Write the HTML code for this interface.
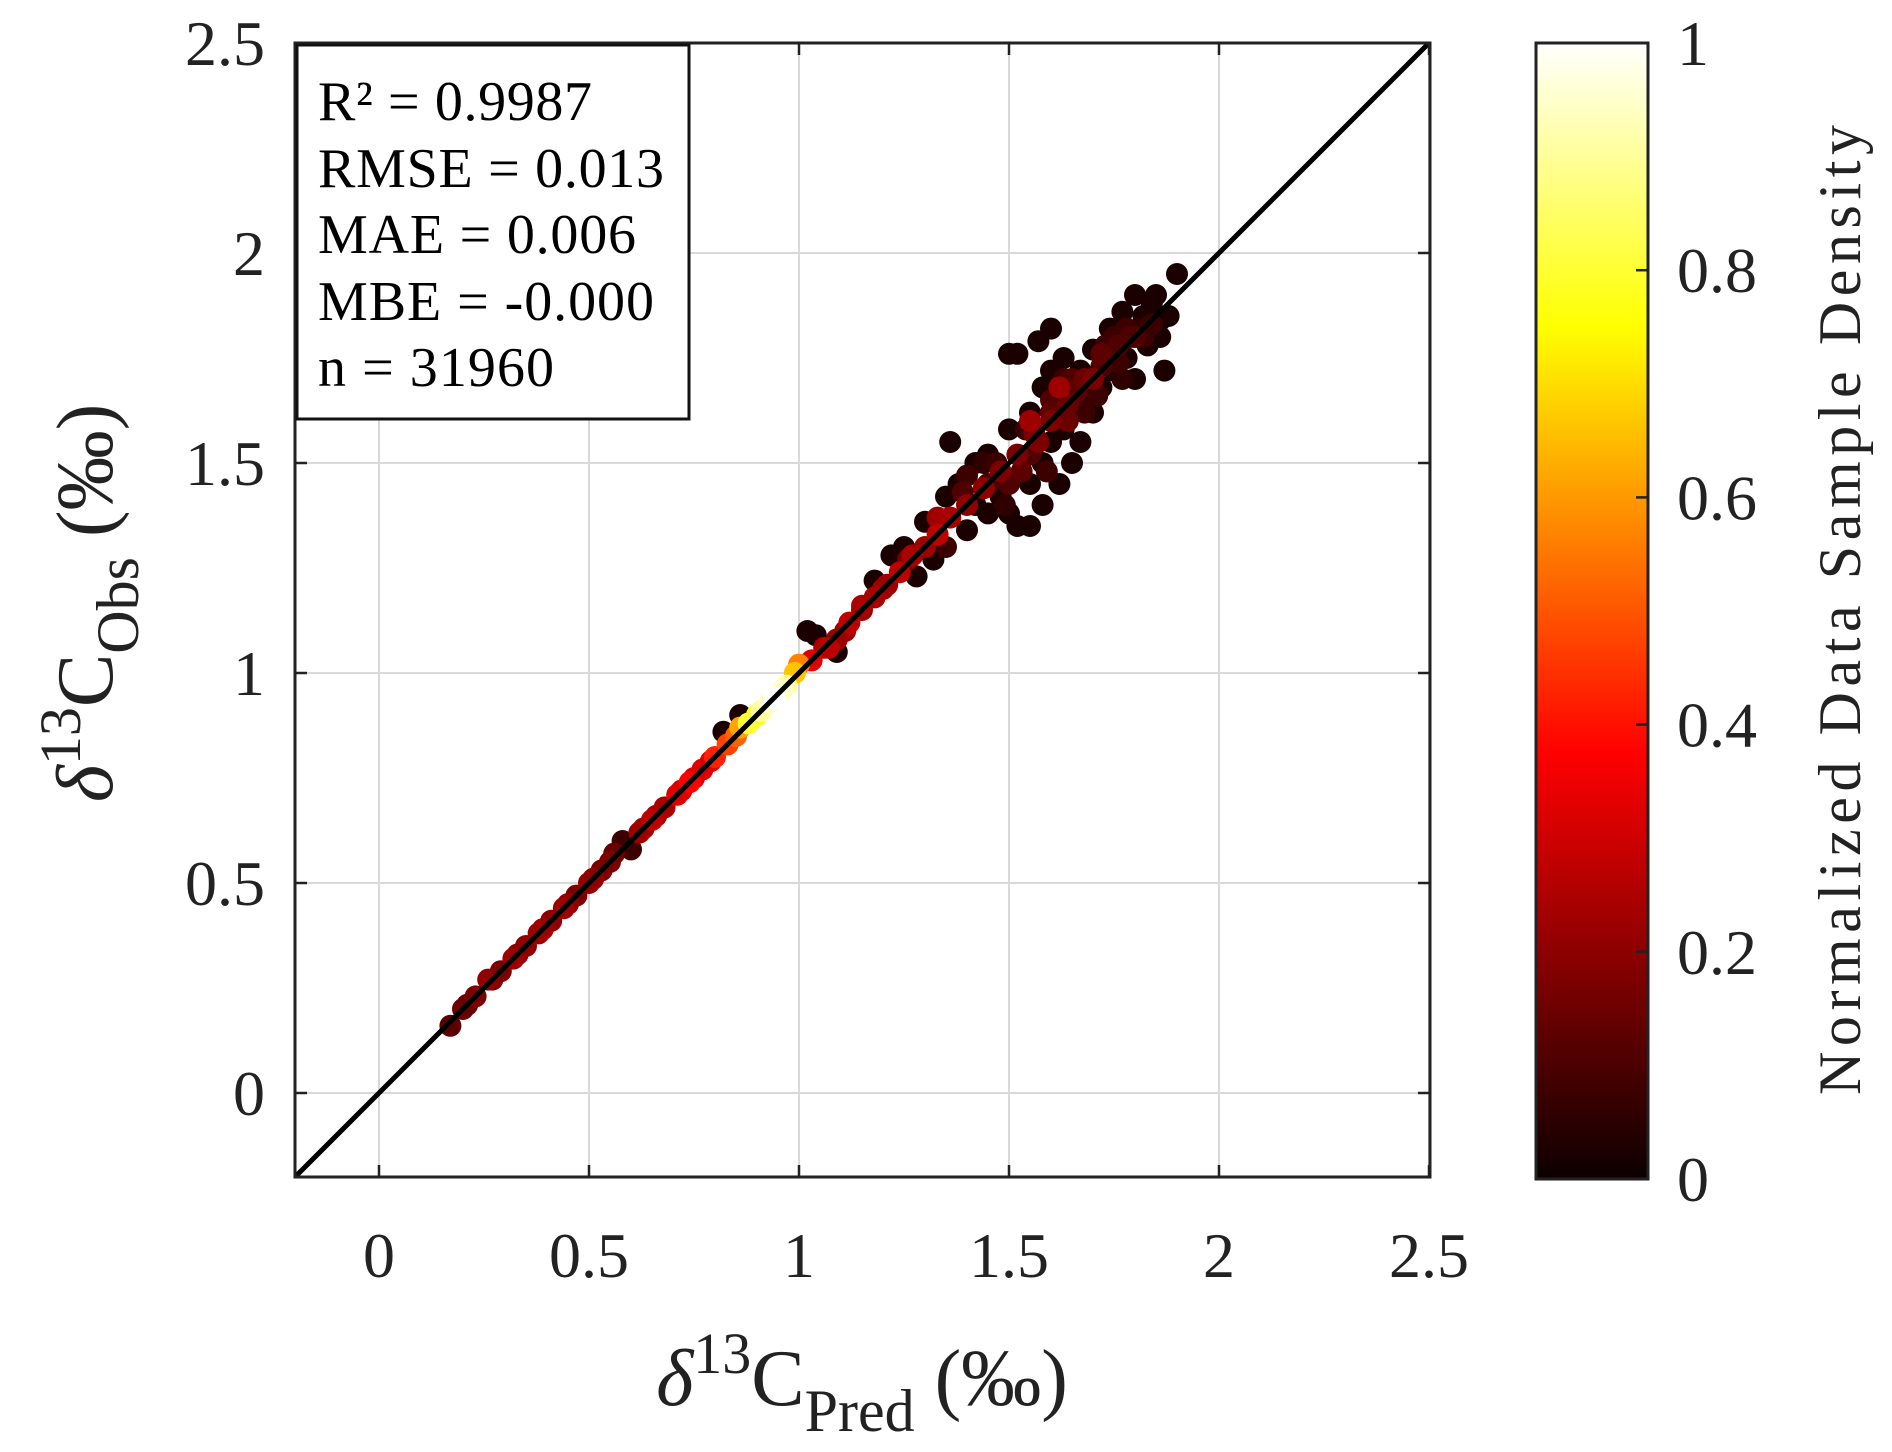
<!DOCTYPE html>
<html><head><meta charset="utf-8"><style>
html,body{margin:0;padding:0;background:#fff;}
svg{display:block;font-family:"Liberation Serif",serif;}
</style></head><body>
<svg id="chart" width="1892" height="1452" viewBox="0 0 1892 1452" xmlns="http://www.w3.org/2000/svg">
<defs>
<linearGradient id="hotGrad" x1="0" y1="1" x2="0" y2="0">
<stop offset="0" stop-color="#0b0000"/>
<stop offset="0.375" stop-color="#ff0000"/>
<stop offset="0.75" stop-color="#ffff00"/>
<stop offset="1" stop-color="#ffffff"/>
</linearGradient>
<clipPath id="plotClip"><rect x="295" y="43" width="1135" height="1134"/></clipPath>
</defs>
<rect x="295" y="43" width="1135" height="1134" fill="#fff"/>
<g id="grid"></g>
<g id="points" clip-path="url(#plotClip)"></g>
<line id="oneLine" stroke="#000" stroke-width="5" clip-path="url(#plotClip)"/>
<g id="ticks"></g>
<rect x="295" y="43" width="1135" height="1134" fill="none" stroke="#222" stroke-width="3"/>
<g>
<rect x="297" y="45" width="392" height="374" fill="#fff" stroke="#111" stroke-width="3"/>
<text x="318" y="120" font-size="56" textLength="274">R² = 0.9987</text>
<text x="318" y="187" font-size="56" textLength="346">RMSE = 0.013</text>
<text x="318" y="253" font-size="56" textLength="318">MAE = 0.006</text>
<text x="318" y="320" font-size="56" textLength="336">MBE = -0.000</text>
<text x="318" y="386" font-size="56" textLength="236">n = 31960</text>
</g>
<text x="862" y="1405" font-size="80" text-anchor="middle" fill="#222"><tspan font-style="italic">δ</tspan><tspan dy="-32" font-size="58">13</tspan><tspan dy="32">C</tspan><tspan dy="26" font-size="60">Pred</tspan><tspan dy="-26"> (‰)</tspan></text>
<text transform="translate(112,603) rotate(-90)" font-size="80" text-anchor="middle" fill="#222"><tspan font-style="italic">δ</tspan><tspan dy="-32" font-size="58">13</tspan><tspan dy="32">C</tspan><tspan dy="26" font-size="60">Obs</tspan><tspan dy="-26"> (‰)</tspan></text>
<rect x="1536" y="43" width="112" height="1136" fill="url(#hotGrad)" stroke="#222" stroke-width="3"/>
<g id="cbticks"></g>
<text transform="translate(1860,610) rotate(-90)" font-size="60" text-anchor="middle" fill="#222" textLength="970">Normalized Data Sample Density</text>
</svg>
<script>
const xTicks=[0,0.5,1,1.5,2,2.5];
const yTicks=[0,0.5,1,1.5,2,2.5];
const xTickLabels=["0","0.5","1","1.5","2","2.5"];
const yTickLabels=["0","0.5","1","1.5","2","2.5"];
const cbTicks=[0,0.2,0.4,0.6,0.8,1];
const cbTickLabels=["0","0.2","0.4","0.6","0.8","1"];
const ptX=[0.17,0.2,0.23,0.26,0.29,0.32,0.35,0.38,0.41,0.44,0.47,0.5,0.53,0.56,0.58,0.6,0.62,0.65,0.68,0.71,0.74,0.77,0.8,0.83,0.86,0.88,0.91,0.94,0.97,0.99,1.0,1.03,1.06,1.09,1.12,1.15,1.18,1.21,1.24,1.27,1.3,1.33,1.36,1.4,1.44,1.48,1.52,1.56,1.6,1.64,1.68,1.72,1.76,1.8,1.84,
0.86,0.82,1.04,1.02,1.09,1.18,1.22,1.25,1.28,1.32,1.3,1.35,1.38,1.4,1.42,1.45,1.45,1.48,1.5,1.5,1.52,1.55,1.55,1.55,1.58,1.58,1.58,1.6,1.6,1.62,1.63,1.63,1.65,1.65,1.67,1.67,1.7,1.7,1.72,1.74,1.75,1.77,1.78,1.8,1.8,1.82,1.83,1.85,1.86,1.87,1.88,1.9,1.52,1.5,1.36,1.57,1.6,1.62,1.4,1.45,1.55,1.68,1.75,1.78,1.6,1.5,1.65,1.55,1.62,1.7,
1.42,1.47,1.53,1.57,1.6,1.64,1.66,1.69,1.72,1.76,1.79,1.82,1.84,1.86,1.44,1.49,1.54,1.59,1.63,1.71,1.73,1.77,1.81,1.35,1.33,1.39,1.26,1.2,1.15,1.11,1.07,0.93,0.96,0.9,0.85,0.79,0.75,0.72,0.66,0.63,0.55,0.51,0.45,0.39,0.33,0.27,0.21];
const ptY=[0.16,0.2,0.23,0.27,0.29,0.32,0.35,0.38,0.41,0.44,0.47,0.5,0.53,0.57,0.6,0.58,0.62,0.65,0.68,0.71,0.74,0.77,0.8,0.83,0.87,0.88,0.91,0.94,0.97,1.0,1.02,1.03,1.06,1.08,1.12,1.15,1.18,1.21,1.24,1.28,1.3,1.33,1.37,1.4,1.44,1.48,1.52,1.57,1.6,1.64,1.7,1.73,1.78,1.8,1.83,
0.9,0.86,1.09,1.1,1.05,1.22,1.28,1.3,1.23,1.27,1.36,1.42,1.45,1.34,1.5,1.38,1.52,1.42,1.58,1.38,1.35,1.62,1.45,1.35,1.68,1.5,1.4,1.72,1.55,1.45,1.75,1.58,1.65,1.5,1.72,1.55,1.77,1.62,1.68,1.82,1.72,1.86,1.75,1.9,1.7,1.85,1.78,1.9,1.8,1.72,1.85,1.95,1.76,1.76,1.55,1.79,1.82,1.63,1.47,1.45,1.52,1.62,1.8,1.82,1.65,1.45,1.7,1.6,1.68,1.7,
1.4,1.5,1.48,1.55,1.62,1.6,1.67,1.66,1.76,1.74,1.8,1.8,1.88,1.84,1.5,1.4,1.58,1.48,1.7,1.66,1.78,1.7,1.82,1.3,1.37,1.43,1.27,1.2,1.16,1.1,1.06,0.93,0.96,0.9,0.85,0.79,0.75,0.72,0.66,0.63,0.55,0.51,0.45,0.39,0.33,0.27,0.21];
const ptD=[0.1,0.12,0.15,0.18,0.15,0.2,0.18,0.2,0.18,0.2,0.15,0.18,0.15,0.12,0.05,0.05,0.2,0.25,0.22,0.3,0.35,0.3,0.4,0.45,0.6,0.8,0.9,1.0,0.9,0.65,0.55,0.3,0.22,0.2,0.25,0.2,0.22,0.2,0.25,0.22,0.2,0.25,0.22,0.18,0.18,0.15,0.15,0.15,0.15,0.12,0.12,0.08,0.08,0.08,0.05,
0,0,0,0,0,0,0,0,0,0,0,0,0,0,0,0,0,0,0,0,0,0,0,0,0,0,0,0,0,0,0,0,0,0,0,0,0,0,0,0,0,0,0,0,0,0,0,0,0,0,0,0,0,0,0,0,0,0.05,0.05,0.08,0.08,0.05,0.05,0.05,0.08,0.08,0.08,0.2,0.2,0.15,
0,0.05,0.1,0.15,0.1,0.12,0.1,0.05,0.1,0.05,0.08,0.05,0,0,0.03,0.03,0.05,0.05,0.05,0.05,0.05,0.03,0.03,0.05,0.2,0.08,0.15,0.2,0.22,0.2,0.25,0.95,0.95,0.75,0.5,0.3,0.3,0.28,0.22,0.2,0.15,0.18,0.18,0.2,0.18,0.15,0.12];
const NS='http://www.w3.org/2000/svg';
const X0=379,Y0=1093,U=420;
function sx(v){return X0+v*U;}
function sy(v){return Y0-v*U;}
function cbY(v){return 1179-v*1136;}
function hot(t){let r,g,b;t=0.04+0.96*t;
 if(t<0.375){r=t/0.375;g=0;b=0;}else if(t<0.75){r=1;g=(t-0.375)/0.375;b=0;}else{r=1;g=1;b=(t-0.75)/0.25;}
 return 'rgb('+Math.round(r*255)+','+Math.round(g*255)+','+Math.round(b*255)+')';}
function mk(tag,attrs,parent){const e=document.createElementNS(NS,tag);for(const k in attrs)e.setAttribute(k,attrs[k]);parent.appendChild(e);return e;}
const grid=document.getElementById('grid'),ticks=document.getElementById('ticks');
xTicks.forEach((v,i)=>{
 const gl=mk('line',{x1:sx(v),x2:sx(v),y1:43,y2:1177,stroke:'#d9d9d9','stroke-width':2},grid);
 
 
 const t1=mk('line',{x1:sx(v),x2:sx(v),y1:1177,y2:1165,stroke:'#222','stroke-width':2.5},ticks);
 
 
 const t2=mk('line',{x1:sx(v),x2:sx(v),y1:43,y2:55,stroke:'#222','stroke-width':2.5},ticks);
 
 
 const tl=mk('text',{x:sx(v),y:1277,'font-size':64,'text-anchor':'middle',fill:'#222'},ticks);
 tl.textContent=xTickLabels[i];
 
 
});
yTicks.forEach((v,i)=>{
 const gl=mk('line',{x1:295,x2:1430,y1:sy(v),y2:sy(v),stroke:'#d9d9d9','stroke-width':2},grid);
 
 
 const t1=mk('line',{x1:295,x2:307,y1:sy(v),y2:sy(v),stroke:'#222','stroke-width':2.5},ticks);
 
 
 const t2=mk('line',{x1:1418,x2:1430,y1:sy(v),y2:sy(v),stroke:'#222','stroke-width':2.5},ticks);
 
 
 const tl=mk('text',{x:265,y:sy(v)+22,'font-size':64,'text-anchor':'end',fill:'#222'},ticks);
 tl.textContent=yTickLabels[i];
 
 
});
const ln=document.getElementById('oneLine');
ln.setAttribute('x1',sx(-0.2));ln.setAttribute('y1',sy(-0.2));ln.setAttribute('x2',sx(2.5));ln.setAttribute('y2',sy(2.5));
const pts=document.getElementById('points');
const order=ptX.map((_,i)=>i).sort((a,b)=>ptD[a]-ptD[b]);
order.forEach(i=>{
 const c=mk('circle',{cx:sx(ptX[i]),cy:sy(ptY[i]),r:11,fill:hot(ptD[i])},pts);
 
 
});
const cb=document.getElementById('cbticks');
cbTicks.forEach((v,i)=>{
 const t=mk('line',{x1:1636,x2:1648,y1:cbY(v),y2:cbY(v),stroke:'#222','stroke-width':2.5},cb);
 
 
 const tl=mk('text',{x:1677,y:cbY(v)+22,'font-size':64,fill:'#222'},cb);
 tl.textContent=cbTickLabels[i];
 
 
});
</script>
</body></html>
